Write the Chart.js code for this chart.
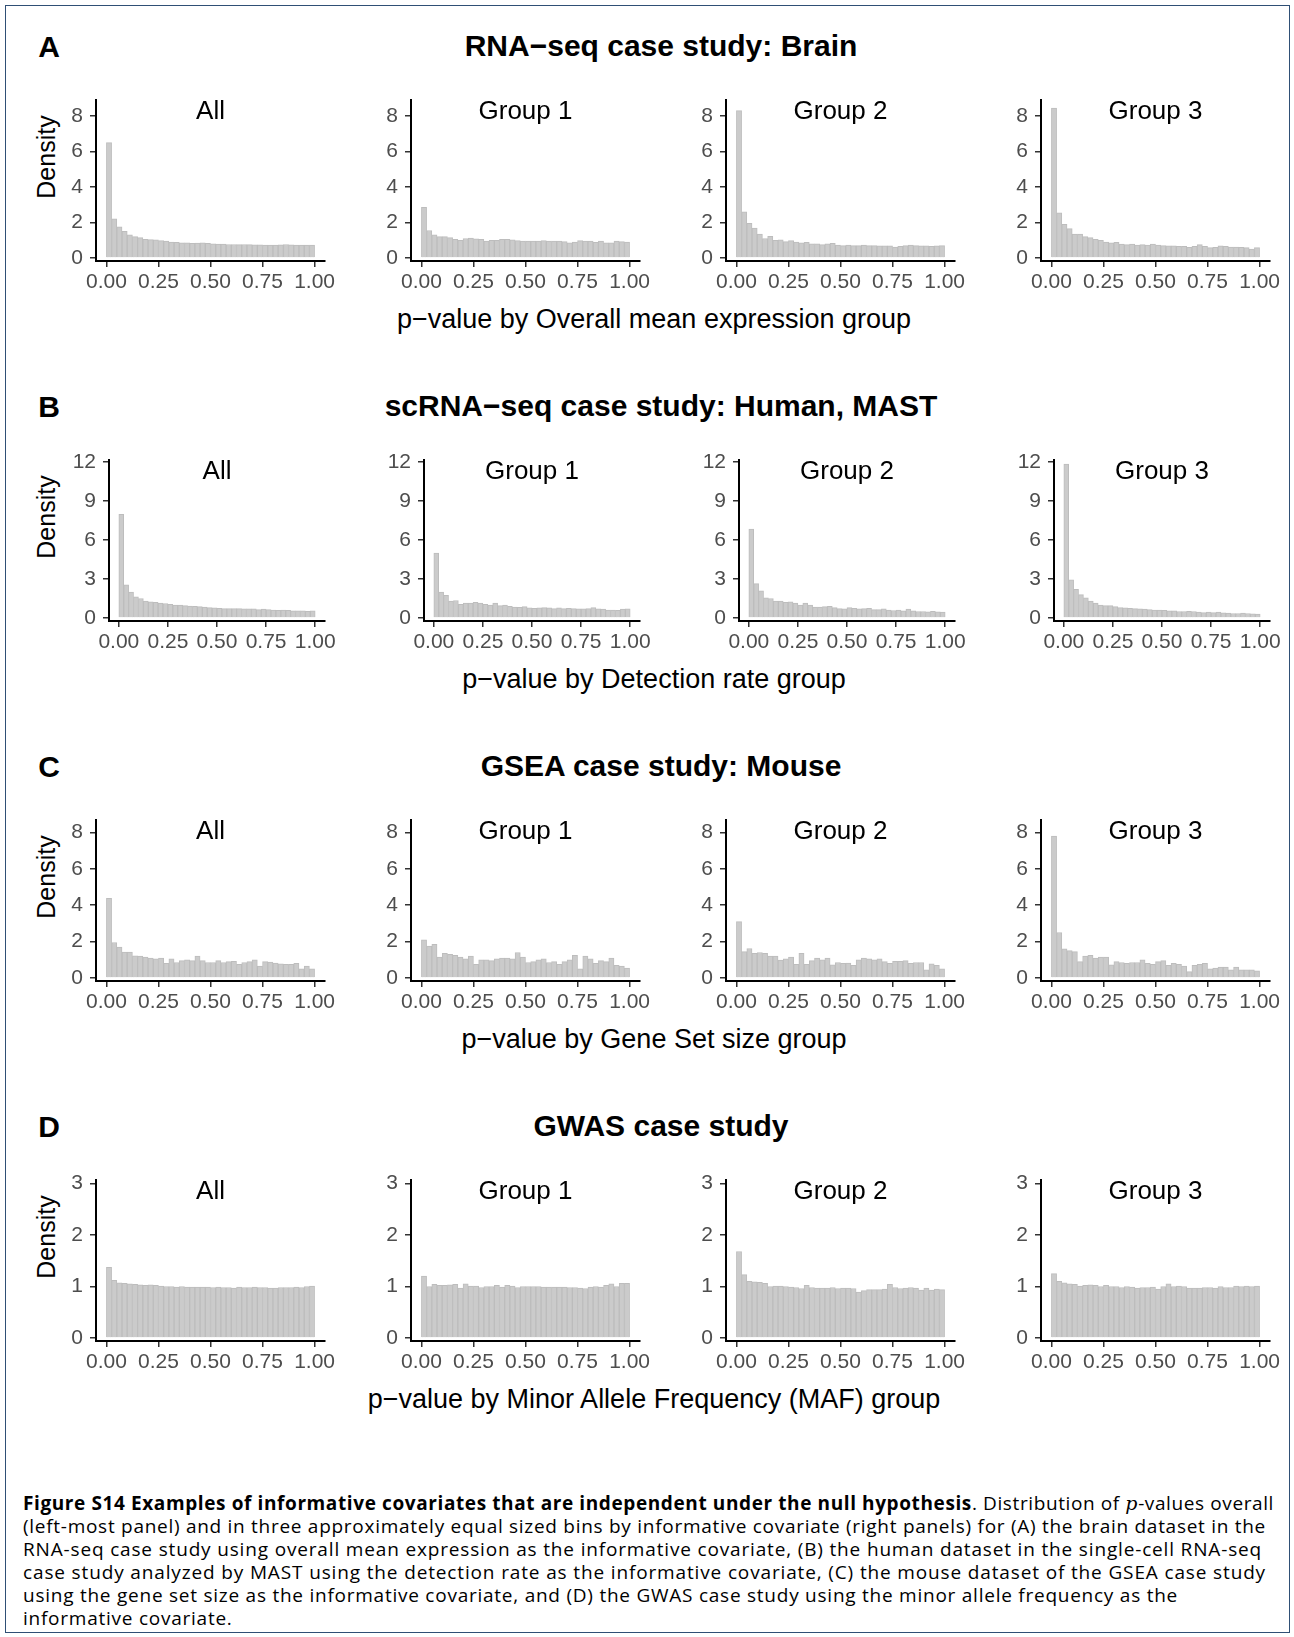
<!DOCTYPE html>
<html>
<head>
<meta charset="utf-8">
<script src="https://cdn.jsdelivr.net/npm/chart.js@4.4.1/dist/chart.umd.min.js"></script>
<style>
  body { margin: 0; background: #fff; }
  #fig { position: relative; width: 1294px; height: 1637px; font-family: "Liberation Sans", Arial, sans-serif; color: #000; }
  #frame { position: absolute; left: 5px; top: 5px; width: 1285px; height: 1628px; border: 1px solid #2f4f75; box-sizing: border-box; }
  .letter, .title { position: absolute; font-weight: bold; font-size: 30px; transform: translate(-50%, -50%); white-space: nowrap; }
  .xtitle { position: absolute; font-size: 27px; transform: translate(-50%, -50%); white-space: nowrap; }
  .ytitle { position: absolute; font-size: 25px; transform: translate(-50%, -50%) rotate(-90deg); white-space: nowrap; }
  canvas { position: absolute; }
  #caption { position: absolute; left: 23px; top: 1492px; width: 1266px; font-family: "Open Sans", Lato, sans-serif; font-size: 19px; line-height: 23px; }
  #caption div { white-space: nowrap; }
  #caption div span { display: inline-block; }
  #caption .m { font-family: "DejaVu Serif", serif; font-style: italic; }
</style>
</head>
<body>
<div id="fig">
  <div id="frame"></div>
  <div id="caption">
    <div><span data-w="1251"><b>Figure S14 Examples of informative covariates that are independent under the null hypothesis</b>. Distribution of <i class="m">p</i>-values overall</span></div>
    <div><span data-w="1243">(left-most panel) and in three approximately equal sized bins by informative covariate (right panels) for (A) the brain dataset in the</span></div>
    <div><span data-w="1239">RNA-seq case study using overall mean expression as the informative covariate, (B) the human dataset in the single-cell RNA-seq</span></div>
    <div><span data-w="1243">case study analyzed by MAST using the detection rate as the informative covariate, (C) the mouse dataset of the GSEA case study</span></div>
    <div><span data-w="1155">using the gene set size as the informative covariate, and (D) the GWAS case study using the minor allele frequency as the</span></div>
    <div><span>informative covariate.</span></div>
  </div>
</div>
<script>
// histogram bins: 40 bins of width 0.025 on [0, 1]
const bins = Array.from({ length: 40 }, (_, i) => (i + 0.5) / 40);
const xTicks = [0, 0.25, 0.5, 0.75, 1];
const panelNames = ['All', 'Group 1', 'Group 2', 'Group 3'];
const rowLetters = ['A', 'B', 'C', 'D'];
const rowTitles = ['RNA\u2212seq case study: Brain', 'scRNA\u2212seq case study: Human, MAST', 'GSEA case study: Mouse', 'GWAS case study'];
const xTitles = ['p\u2212value by Overall mean expression group', 'p\u2212value by Detection rate group',
                 'p\u2212value by Gene Set size group', 'p\u2212value by Minor Allele Frequency (MAF) group'];
const yTicksRNA = [0, 2, 4, 6, 8];
const yTicksSC = [0, 3, 6, 9, 12];
const yTicksGSEA = [0, 2, 4, 6, 8];
const yTicksGWAS = [0, 1, 2, 3];

// A: RNA-seq, Brain
const rnaAll = [6.5, 2.2, 1.75, 1.5, 1.3, 1.2, 1.15, 1.05, 1.03, 1.02, 0.98, 0.95, 0.9, 0.88, 0.85, 0.85, 0.83, 0.84, 0.85, 0.82,
  0.8, 0.78, 0.78, 0.76, 0.76, 0.75, 0.76, 0.75, 0.74, 0.74, 0.73, 0.72, 0.72, 0.74, 0.76, 0.74, 0.72, 0.72, 0.72, 0.72];
const rnaG1 = [2.85, 1.55, 1.3, 1.2, 1.2, 1.15, 1.05, 1.0, 1.1, 1.12, 1.08, 1.05, 0.95, 1.0, 1.0, 1.05, 1.05, 1.02, 0.98, 0.95,
  0.95, 0.95, 0.95, 0.98, 0.95, 0.95, 0.95, 0.92, 0.85, 0.9, 0.98, 0.95, 0.95, 0.88, 0.95, 0.85, 0.85, 0.95, 0.92, 0.9];
const rnaG2 = [8.3, 2.6, 1.95, 1.68, 1.35, 1.1, 1.22, 1.0, 1.02, 0.92, 0.98, 0.9, 0.85, 0.88, 0.8, 0.8, 0.75, 0.8, 0.82, 0.72,
  0.7, 0.72, 0.7, 0.7, 0.72, 0.7, 0.7, 0.68, 0.68, 0.68, 0.62, 0.65, 0.7, 0.72, 0.7, 0.68, 0.68, 0.66, 0.68, 0.7];
const rnaG3 = [8.45, 2.55, 1.9, 1.65, 1.35, 1.35, 1.2, 1.15, 1.05, 1.0, 0.9, 0.85, 0.88, 0.78, 0.75, 0.78, 0.72, 0.75, 0.72, 0.78,
  0.72, 0.7, 0.68, 0.68, 0.65, 0.66, 0.6, 0.65, 0.75, 0.65, 0.58, 0.6, 0.68, 0.65, 0.62, 0.62, 0.6, 0.58, 0.5, 0.58];

// B: scRNA-seq, Human, MAST
const scAll = [7.98, 2.55, 2.0, 1.63, 1.5, 1.3, 1.25, 1.2, 1.15, 1.12, 1.05, 1.0, 1.0, 0.95, 0.92, 0.9, 0.88, 0.85, 0.8, 0.78,
  0.75, 0.72, 0.72, 0.72, 0.72, 0.7, 0.7, 0.7, 0.65, 0.68, 0.65, 0.62, 0.6, 0.62, 0.6, 0.55, 0.55, 0.55, 0.52, 0.55];
const scG1 = [5.0, 2.0, 1.75, 1.3, 1.35, 1.05, 1.15, 1.15, 1.2, 1.15, 1.05, 1.0, 1.15, 0.95, 1.0, 0.9, 0.85, 0.82, 0.88, 0.78,
  0.75, 0.78, 0.8, 0.78, 0.72, 0.78, 0.72, 0.75, 0.72, 0.7, 0.7, 0.72, 0.8, 0.7, 0.68, 0.62, 0.62, 0.6, 0.68, 0.7];
const scG2 = [6.85, 2.65, 2.1, 1.55, 1.5, 1.3, 1.3, 1.2, 1.25, 1.15, 1.0, 1.15, 1.0, 0.85, 0.85, 0.88, 0.9, 0.8, 0.72, 0.7,
  0.8, 0.75, 0.7, 0.72, 0.75, 0.65, 0.65, 0.7, 0.62, 0.58, 0.62, 0.55, 0.68, 0.55, 0.5, 0.5, 0.48, 0.52, 0.48, 0.45];
const scG3 = [11.85, 2.95, 2.2, 1.8, 1.55, 1.3, 1.15, 1.0, 0.95, 0.95, 0.88, 0.8, 0.78, 0.75, 0.72, 0.7, 0.68, 0.65, 0.62, 0.62,
  0.6, 0.55, 0.55, 0.5, 0.5, 0.52, 0.5, 0.45, 0.42, 0.45, 0.42, 0.45, 0.4, 0.38, 0.35, 0.35, 0.38, 0.35, 0.32, 0.3];

// C: GSEA, Mouse
const gseaAll = [4.38, 1.95, 1.7, 1.42, 1.42, 1.22, 1.2, 1.15, 1.1, 1.05, 1.1, 0.8, 1.05, 0.85, 0.95, 1.0, 0.95, 1.2, 0.95, 0.85,
  0.85, 0.95, 0.85, 0.9, 0.92, 0.75, 0.85, 0.9, 1.0, 0.65, 0.9, 0.88, 0.82, 0.78, 0.75, 0.75, 0.8, 0.5, 0.65, 0.5];
const gseaG1 = [2.1, 1.75, 1.85, 1.15, 1.35, 1.3, 1.25, 1.15, 1.05, 1.2, 0.75, 1.0, 1.0, 0.95, 1.05, 1.1, 1.1, 1.05, 1.4, 1.15,
  0.85, 0.9, 1.0, 1.05, 0.85, 0.9, 0.75, 0.9, 1.0, 1.25, 0.5, 1.2, 1.05, 0.8, 0.95, 0.9, 1.1, 0.7, 0.65, 0.55];
const gseaG2 = [3.1, 1.45, 1.62, 1.35, 1.4, 1.35, 1.2, 1.2, 0.98, 1.05, 1.15, 0.75, 1.35, 0.75, 0.95, 1.1, 1.0, 1.1, 0.72, 0.85,
  0.8, 0.82, 0.7, 1.0, 1.1, 1.05, 1.0, 1.05, 0.9, 0.8, 0.92, 0.92, 0.95, 0.8, 0.85, 0.85, 0.45, 0.78, 0.7, 0.5];
const gseaG3 = [7.8, 2.5, 1.6, 1.5, 1.45, 0.9, 1.2, 1.25, 1.1, 1.15, 1.15, 0.72, 0.9, 0.85, 0.8, 0.85, 0.85, 1.0, 0.8, 0.75,
  0.9, 0.95, 0.7, 0.8, 0.75, 0.65, 0.35, 0.7, 0.75, 0.8, 0.5, 0.55, 0.6, 0.6, 0.45, 0.6, 0.45, 0.45, 0.45, 0.4];

// D: GWAS
const gwasAll = [1.37, 1.12, 1.07, 1.06, 1.05, 1.04, 1.03, 1.02, 1.03, 1.02, 1.01, 1.0, 1.0, 0.99, 1.0, 0.99, 0.99, 0.99, 0.99, 0.99,
  0.98, 0.99, 0.98, 0.98, 0.97, 0.99, 0.98, 0.98, 0.99, 0.98, 0.98, 0.97, 0.97, 0.98, 0.98, 0.98, 0.99, 0.98, 1.0, 1.01];
const gwasG1 = [1.2, 1.0, 1.04, 1.02, 1.02, 1.03, 1.04, 0.97, 1.05, 1.01, 1.01, 0.98, 1.0, 1.0, 1.02, 0.99, 1.02, 1.01, 0.98, 1.0,
  1.0, 1.0, 1.0, 0.99, 0.99, 0.99, 0.99, 0.99, 0.98, 0.98, 0.97, 0.96, 0.99, 1.0, 0.99, 1.02, 1.05, 1.0, 1.06, 1.06];
const gwasG2 = [1.68, 1.23, 1.1, 1.09, 1.08, 1.06, 1.0, 1.01, 1.01, 1.0, 0.99, 0.98, 0.96, 1.02, 0.98, 0.97, 0.97, 0.97, 0.98, 0.96,
  0.97, 0.97, 0.96, 0.89, 0.92, 0.94, 0.94, 0.94, 0.95, 1.04, 0.98, 0.96, 0.97, 0.98, 0.97, 0.93, 0.97, 0.93, 0.95, 0.94];
const gwasG3 = [1.25, 1.1, 1.07, 1.05, 1.04, 1.01, 1.02, 1.03, 1.02, 1.0, 1.02, 1.0, 1.0, 0.98, 1.0, 0.99, 0.97, 0.98, 0.98, 0.99,
  0.95, 1.0, 1.05, 1.0, 1.01, 1.0, 0.97, 0.97, 0.97, 0.98, 0.98, 0.97, 1.0, 0.98, 0.98, 1.01, 1.0, 1.01, 1.0, 1.01];

const rows = [
  { series: [rnaAll, rnaG1, rnaG2, rnaG3], yTicks: yTicksRNA, yMin: -0.17, yMax: 8.9, plotLeft: 96, plotWidth: 229 },
  { series: [scAll, scG1, scG2, scG3], yTicks: yTicksSC, yMin: -0.23, yMax: 12.17, plotLeft: 109, plotWidth: 216 },
  { series: [gseaAll, gseaG1, gseaG2, gseaG3], yTicks: yTicksGSEA, yMin: -0.165, yMax: 8.68, plotLeft: 96, plotWidth: 229 },
  { series: [gwasAll, gwasG1, gwasG2, gwasG3], yTicks: yTicksGWAS, yMin: -0.06, yMax: 3.07, plotLeft: 96, plotWidth: 229 }
];

const FONT = '"Liberation Sans", Arial, sans-serif';
const ROW_STEP = 360, COL_STEP = 315;
const PLOT_TOP = 100, PLOT_H = 161;
const PAD_T = 24, PAD_R = 30, Y_W = 50, X_H = 46;

const fig = document.getElementById('fig');

// caption is ragged right: stretch each line's letter spacing so it ends where it does in the figure
let lastSpacing = 0;
document.querySelectorAll('#caption span[data-w]').forEach(sp => {
  const natural = sp.getBoundingClientRect().width;
  lastSpacing = (Number(sp.dataset.w) - natural) / sp.textContent.length;
  sp.style.letterSpacing = lastSpacing + 'px';
});
document.querySelector('#caption div:last-child span').style.letterSpacing = lastSpacing + 'px';

function addText(cls, text, x, y) {
  const d = document.createElement('div');
  d.className = cls;
  d.textContent = text;
  d.style.left = x + 'px';
  d.style.top = y + 'px';
  fig.appendChild(d);
}

const panelLabel = {
  id: 'panelLabel',
  afterDraw(chart, args, opts) {
    const { ctx, chartArea } = chart;
    ctx.save();
    ctx.font = '26px ' + FONT;
    ctx.fillStyle = '#000';
    ctx.textAlign = 'center';
    ctx.textBaseline = 'alphabetic';
    ctx.fillText(opts.text, (chartArea.left + chartArea.right) / 2, chartArea.top + 18.5);
    ctx.restore();
  }
};

rows.forEach((row, r) => {
  addText('letter', rowLetters[r], 49, 47 + r * ROW_STEP);
  addText('title', rowTitles[r], 661, 46 + r * ROW_STEP);
  addText('xtitle', xTitles[r], 654, 318.5 + r * ROW_STEP);
  addText('ytitle', 'Density', 46, 157 + r * ROW_STEP);

  row.series.forEach((vals, c) => {
    const cv = document.createElement('canvas');
    const w = Y_W + row.plotWidth + PAD_R;
    const h = PAD_T + PLOT_H + X_H;
    cv.width = w; cv.height = h;
    cv.style.width = w + 'px'; cv.style.height = h + 'px';
    cv.style.left = (row.plotLeft + c * COL_STEP - Y_W) + 'px';
    cv.style.top = (PLOT_TOP + r * ROW_STEP - PAD_T) + 'px';
    fig.appendChild(cv);

    new Chart(cv, {
      type: 'bar',
      data: {
        datasets: [{
          data: bins.map((b, i) => ({ x: b, y: vals[i] })),
          backgroundColor: '#cbcbcb',
          borderColor: '#bdbdbd',
          borderWidth: 1,
          barPercentage: 1,
          categoryPercentage: 1
        }]
      },
      options: {
        responsive: false,
        animation: false,
        events: [],
        layout: { padding: { top: PAD_T, right: PAD_R, left: 0, bottom: 0 } },
        plugins: {
          legend: { display: false },
          tooltip: { enabled: false },
          panelLabel: { text: panelNames[c] }
        },
        scales: {
          x: {
            type: 'linear', min: -0.05, max: 1.05, offset: false,
            afterBuildTicks: s => { s.ticks = xTicks.map(v => ({ value: v })); },
            afterFit: s => { s.height = X_H; s.paddingLeft = 0; s.paddingRight = 0; },
            ticks: { callback: v => v.toFixed(2), color: '#4d4d4d', font: { size: 21, family: FONT }, padding: 3, maxRotation: 0, autoSkip: false },
            grid: { drawOnChartArea: false, drawTicks: true, tickLength: 6, color: '#333', lineWidth: 1.5, offset: false },
            border: { display: true, color: '#000', width: 2 }
          },
          y: {
            min: row.yMin, max: row.yMax,
            afterBuildTicks: s => { s.ticks = row.yTicks.map(v => ({ value: v })); },
            afterFit: s => { s.width = Y_W; s.paddingTop = 0; s.paddingBottom = 0; },
            ticks: { callback: v => String(v), color: '#4d4d4d', font: { size: 21, family: FONT }, padding: 7 },
            grid: { drawOnChartArea: false, drawTicks: true, tickLength: 6, color: '#333', lineWidth: 1.5 },
            border: { display: true, color: '#000', width: 2 }
          }
        }
      },
      plugins: [panelLabel]
    });
  });
});
</script>
</body>
</html>
